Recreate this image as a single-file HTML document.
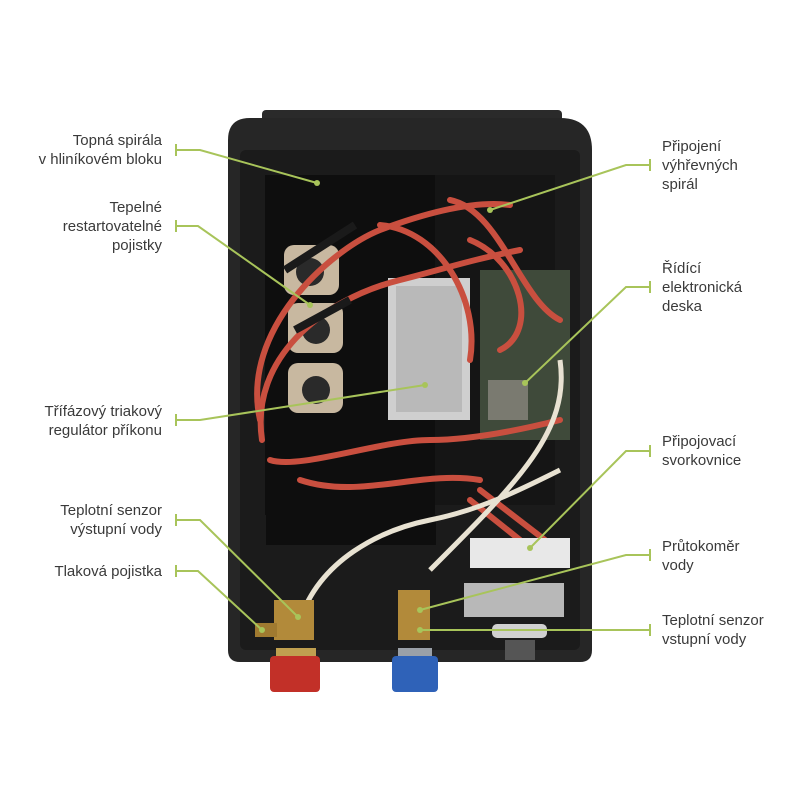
<!DOCTYPE html>
<html><head><meta charset="utf-8"><style>
body{margin:0;background:#fff;width:800px;height:800px;overflow:hidden;position:relative;font-family:"Liberation Sans",sans-serif}
.l{position:absolute;font-size:15px;line-height:19px;color:#3a3a3a}
.r{text-align:right}
svg{position:absolute;left:0;top:0}
</style></head><body>
<svg width="800" height="800" viewBox="0 0 800 800">
<!-- device body -->
<rect x="262" y="110" width="300" height="20" rx="4" fill="#2a2a2a"/>
<path d="M250 118 H560 Q592 118 592 150 V650 Q592 662 580 662 H240 Q228 662 228 650 V140 Q228 118 250 118Z" fill="#262626"/>
<rect x="240" y="150" width="340" height="500" rx="6" fill="#1b1b1b"/>
<rect x="265" y="175" width="170" height="340" fill="#0e0e0e"/>
<rect x="435" y="175" width="120" height="330" fill="#151515"/>
<rect x="266" y="515" width="170" height="30" fill="#0e0e0e"/>
<!-- pcb -->
<rect x="480" y="270" width="90" height="170" fill="#3f4a3a"/>
<rect x="488" y="380" width="40" height="40" fill="#7a7a70"/>
<!-- aluminium block -->
<rect x="388" y="278" width="82" height="142" fill="#cfcfcf"/>
<rect x="396" y="286" width="66" height="126" fill="#b9b9b9"/>
<!-- fuses -->
<g fill="#c8b8a0"><rect x="284" y="245" width="55" height="50" rx="10"/><rect x="288" y="303" width="55" height="50" rx="10"/><rect x="288" y="363" width="55" height="50" rx="10"/></g>
<g fill="#2a2a2a"><circle cx="310" cy="272" r="14"/><circle cx="316" cy="330" r="14"/><circle cx="316" cy="390" r="14"/></g>
<!-- wires -->
<g fill="none" stroke="#c94f3f" stroke-width="6" stroke-linecap="round">
<path d="M260 420 C240 330 330 250 380 230 C420 215 470 200 510 205"/>
<path d="M262 440 C250 360 320 300 400 280 C440 270 470 260 520 250"/>
<path d="M270 460 C300 470 380 440 430 440 C470 440 520 430 560 420"/>
<path d="M300 480 C360 500 420 470 480 480"/>
<path d="M450 200 C500 210 520 300 560 320"/>
<path d="M470 240 C520 260 540 330 500 350"/>
<path d="M380 225 C440 230 480 300 470 360"/>
<path d="M470 500 L520 540"/><path d="M480 490 L545 540"/>
</g>
<path d="M300 620 C320 560 380 530 430 520 C480 510 520 490 560 470" fill="none" stroke="#e8e2d2" stroke-width="5"/>
<path d="M560 360 C570 430 520 480 430 570" fill="none" stroke="#e8e2d2" stroke-width="5"/>
<path d="M285 270 L355 225 M295 330 L350 300" stroke="#1a1a1a" stroke-width="8"/>
<!-- terminal block -->
<rect x="470" y="538" width="100" height="30" fill="#e8e8e8"/>
<rect x="464" y="583" width="100" height="34" fill="#b8b8b8"/>
<rect x="492" y="624" width="55" height="14" rx="5" fill="#d0d0d0"/>
<!-- fittings -->
<rect x="274" y="600" width="40" height="40" fill="#b28a3a"/>
<rect x="255" y="623" width="22" height="14" fill="#a07a30"/>
<rect x="398" y="590" width="32" height="50" fill="#b28a3a"/>
<rect x="276" y="648" width="40" height="8" fill="#c0a050"/>
<rect x="270" y="656" width="50" height="36" rx="4" fill="#c23028"/>
<rect x="398" y="648" width="34" height="8" fill="#9aa0a8"/>
<rect x="392" y="656" width="46" height="36" rx="4" fill="#2f62b8"/>
<rect x="505" y="640" width="30" height="20" fill="#555"/>
<!-- leaders -->
<g fill="none" stroke="#a8c45a" stroke-width="2">
<path d="M176 150 H200 L317 183"/><path d="M176 144 V156"/>
<path d="M176 226 H198 L310 305"/><path d="M176 220 V232"/>
<path d="M176 420 H200 L425 385"/><path d="M176 414 V426"/>
<path d="M176 520 H200 L298 617"/><path d="M176 514 V526"/>
<path d="M176 571 H198 L262 630"/><path d="M176 565 V577"/>
<path d="M650 165 H626 L490 210"/><path d="M650 159 V171"/>
<path d="M650 287 H626 L525 383"/><path d="M650 281 V293"/>
<path d="M650 451 H626 L530 548"/><path d="M650 445 V457"/>
<path d="M650 555 H626 L420 610"/><path d="M650 549 V561"/>
<path d="M650 630 H420"/><path d="M650 624 V636"/>
</g>
<g fill="#a8c45a"><circle cx="317" cy="183" r="3"/><circle cx="310" cy="305" r="3"/><circle cx="425" cy="385" r="3"/><circle cx="298" cy="617" r="3"/><circle cx="262" cy="630" r="3"/><circle cx="490" cy="210" r="3"/><circle cx="525" cy="383" r="3"/><circle cx="530" cy="548" r="3"/><circle cx="420" cy="610" r="3"/><circle cx="420" cy="630" r="3"/></g>
</svg>
<div class="l r" style="right:638px;top:131px">Topná spirála<br>v hliníkovém bloku</div>
<div class="l r" style="right:638px;top:198px">Tepelné<br>restartovatelné<br>pojistky</div>
<div class="l r" style="right:638px;top:402px">Třífázový triakový<br>regulátor příkonu</div>
<div class="l r" style="right:638px;top:501px">Teplotní senzor<br>výstupní vody</div>
<div class="l r" style="right:638px;top:562px">Tlaková pojistka</div>
<div class="l" style="left:662px;top:137px">Připojení<br>výhřevných<br>spirál</div>
<div class="l" style="left:662px;top:259px">Řídící<br>elektronická<br>deska</div>
<div class="l" style="left:662px;top:432px">Připojovací<br>svorkovnice</div>
<div class="l" style="left:662px;top:537px">Průtokoměr<br>vody</div>
<div class="l" style="left:662px;top:611px">Teplotní senzor<br>vstupní vody</div>
</body></html>
